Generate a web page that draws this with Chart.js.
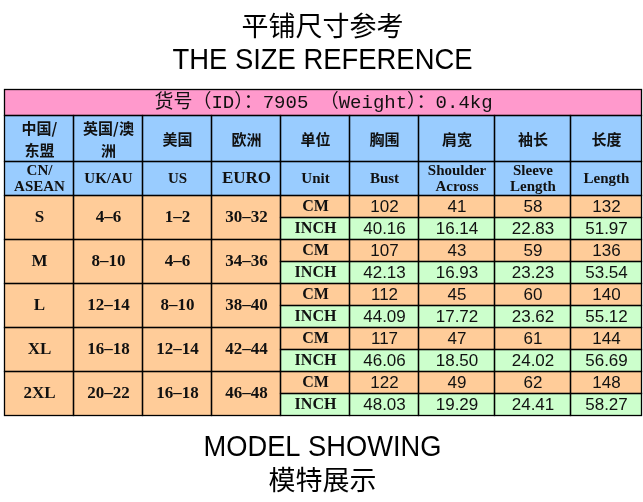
<!DOCTYPE html>
<html>
<head>
<meta charset="utf-8">
<title>平铺尺寸参考</title>
<script src="https://cdn.jsdelivr.net/npm/chart.js@4.4.0/dist/chart.umd.min.js"></script>
<style>
  html, body { margin: 0; padding: 0; background: #fff; }
  #wrap { width: 643px; height: 502px; }
</style>
</head>
<body>
<div id="wrap"><canvas id="sizeChart" width="643" height="502"></canvas></div>
<script>
// Table data
const styleId = '7905';
const weight = '0.4kg';
const headerCn = ['中国/\n东盟', '英国/澳\n洲', '美国', '欧洲', '单位', '胸围', '肩宽', '袖长', '长度'];
const headerEn = ['CN/\nASEAN', 'UK/AU', 'US', 'EURO', 'Unit', 'Bust', 'Shoulder\nAcross', 'Sleeve\nLength', 'Length'];
const sizes = ['S', 'M', 'L', 'XL', '2XL'];
const ukAu = ['4–6', '8–10', '12–14', '16–18', '20–22'];
const usSizes = ['1–2', '4–6', '8–10', '12–14', '16–18'];
const euro = ['30–32', '34–36', '38–40', '42–44', '46–48'];
const units = ['CM', 'INCH'];
const bustCm = [102, 107, 112, 117, 122];
const bustInch = [40.16, 42.13, 44.09, 46.06, 48.03];
const shoulderCm = [41, 43, 45, 47, 49];
const shoulderInch = [16.14, 16.93, 17.72, 18.50, 19.29];
const sleeveCm = [58, 59, 60, 61, 62];
const sleeveInch = [22.83, 23.23, 23.62, 24.02, 24.41];
const lengthCm = [132, 136, 140, 144, 148];
const lengthInch = [51.97, 53.54, 55.12, 56.69, 58.27];

// Layout (scale units)
const colWidths = [69, 69, 69, 69, 69, 69, 76, 76, 71];
const rowHeights = [26, 46, 34, 22, 22, 22, 22, 22, 22, 22, 22, 22, 22];

const colors = {
  pink: '#FF99CC',
  blue: '#99CCFF',
  orange: '#FFCC99',
  green: '#CCFFCC',
  line: '#000000',
  text: '#111111'
};

const fonts = {
  title: '27px "Noto Sans CJK SC"',
  titleEn: '29px "Liberation Sans"',
  id: '19px "Liberation Mono", "Noto Sans CJK SC"',
  headCn: 'bold 15px "Noto Sans CJK SC"',
  headEn: 'bold 15px "Liberation Serif"',
  euro: 'bold 17px "Liberation Serif"',
  size: 'bold 17px "Liberation Serif"',
  unit: 'bold 16px "Liberation Serif"',
  num: '17px "Liberation Sans"'
};

const edges = (arr) => arr.reduce((acc, w) => { acc.push(acc[acc.length - 1] + w); return acc; }, [0]);
const colEdges = edges(colWidths);
const rowEdges = edges(rowHeights);

// Build the list of cells from the data arrays
function buildCells() {
  const cells = [];
  const cell = (c0, c1, r0, r1, fill, text, font, lineH) => cells.push({ c0, c1, r0, r1, fill, text: String(text), font, lineH });

  cell(0, 9, 0, 1, colors.pink, `货号（ID）：${styleId} （Weight）：${weight}`, fonts.id, 20);
  headerCn.forEach((t, i) => cell(i, i + 1, 1, 2, colors.blue, t, fonts.headCn, 22));
  headerEn.forEach((t, i) => cell(i, i + 1, 2, 3, colors.blue, t, i === 3 ? fonts.euro : fonts.headEn, 16));

  const cmCols = [bustCm, shoulderCm, sleeveCm, lengthCm];
  const inchCols = [bustInch, shoulderInch, sleeveInch, lengthInch];
  sizes.forEach((s, k) => {
    const r = 3 + k * 2;
    [sizes, ukAu, usSizes, euro].forEach((col, i) => cell(i, i + 1, r, r + 2, colors.orange, col[k], fonts.size, 18));
    cell(4, 5, r, r + 1, colors.orange, units[0], fonts.unit, 18);
    cell(4, 5, r + 1, r + 2, colors.green, units[1], fonts.unit, 18);
    cmCols.forEach((col, i) => cell(5 + i, 6 + i, r, r + 1, colors.orange, col[k], fonts.num, 18));
    inchCols.forEach((col, i) => cell(5 + i, 6 + i, r + 1, r + 2, colors.green, col[k].toFixed(2), fonts.num, 18));
  });
  return cells;
}

const sizeTable = {
  id: 'sizeTable',
  beforeDraw(chart) {
    const { ctx, scales: { x, y } } = chart;
    const cells = buildCells();
    const px = (c) => Math.round(x.getPixelForValue(colEdges[c]));
    const py = (r) => Math.round(y.getPixelForValue(rowEdges[r]));

    ctx.save();
    ctx.fillStyle = '#fff';
    ctx.fillRect(0, 0, chart.width, chart.height);

    // cell backgrounds
    cells.forEach(c => {
      ctx.fillStyle = c.fill;
      ctx.fillRect(px(c.c0), py(c.r0), px(c.c1) - px(c.c0), py(c.r1) - py(c.r0));
    });

    // borders
    ctx.strokeStyle = colors.line;
    ctx.lineWidth = 1.3;
    cells.forEach(c => {
      ctx.strokeRect(px(c.c0) + 0.5, py(c.r0) + 0.5, px(c.c1) - px(c.c0), py(c.r1) - py(c.r0));
    });

    // texts
    ctx.fillStyle = colors.text;
    ctx.textAlign = 'center';
    ctx.textBaseline = 'middle';
    cells.forEach(c => {
      ctx.font = c.font;
      const lines = c.text.split('\n');
      const cx = (px(c.c0) + px(c.c1)) / 2 + 1;
      const cy = (py(c.r0) + py(c.r1)) / 2 + 1;
      const w = px(c.c1) - px(c.c0) - 4;
      lines.forEach((line, i) => {
        const ly = cy + (i - (lines.length - 1) / 2) * c.lineH;
        ctx.fillText(line, cx, ly, w);
      });
    });

    // headings above and below the table
    const mid = (x.left + x.right) / 2;
    ctx.fillStyle = '#000';
    ctx.font = fonts.title;
    ctx.fillText('平铺尺寸参考', mid, 26);
    ctx.font = fonts.titleEn;
    ctx.fillText('THE SIZE REFERENCE', mid, 61, 300);
    ctx.fillText('MODEL SHOWING', mid, 448, 238);
    ctx.font = fonts.title;
    ctx.fillText('模特展示', mid, 480);
    ctx.restore();
  }
};

const chart = new Chart(document.getElementById('sizeChart'), {
  type: 'scatter',
  data: { datasets: [] },
  options: {
    responsive: false,
    animation: false,
    events: [],
    layout: { padding: { left: 4, right: 2, top: 89, bottom: 87 } },
    plugins: {
      legend: { display: false },
      tooltip: { enabled: false }
    },
    scales: {
      x: { type: 'linear', min: 0, max: colEdges[colEdges.length - 1], display: false },
      y: { type: 'linear', min: 0, max: rowEdges[rowEdges.length - 1], reverse: true, display: false }
    }
  },
  plugins: [sizeTable]
});
</script>
</body>
</html>
